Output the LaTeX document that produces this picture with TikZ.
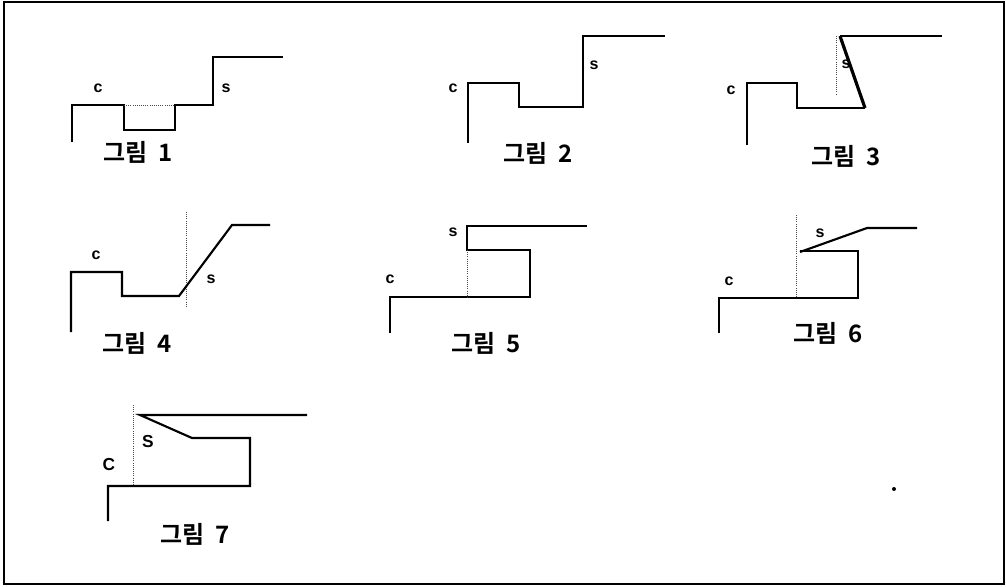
\documentclass[tikz,border=0pt]{standalone}
\usepackage{fontspec}
\setmainfont{Liberation Sans}
\newfontfamily\krfont{Noto Sans CJK KR}[BoldFont={* Bold}]
\newcommand{\gr}[1]{그림\hspace{0.45em}#1}
\begin{document}
\begin{tikzpicture}[x=0.75pt,y=-0.75pt,
  ln/.style={line width=1.6pt,line join=miter},
  thk/.style={line width=2.4pt},
  dl/.style={line width=0.6pt,densely dotted,black!70},
  lbl/.style={font=\fontsize{12}{12}\selectfont\bfseries,inner sep=0pt},
  lblb/.style={font=\fontsize{13}{13}\selectfont\bfseries,inner sep=0pt},
  capt/.style={font=\krfont\bfseries\fontsize{18}{18}\selectfont,inner sep=0pt}]
\useasboundingbox (0,0) rectangle (1006,586);
\draw[line width=1.5pt] (4,2) rectangle (1004,584);
% Fig 1
\draw[ln] (72,142) -- (72,105) -- (124,105) -- (124,130) -- (175,130) -- (175,105) -- (213,105) -- (213,57) -- (283,57);
\draw[line width=1.6pt,white] (125,105) -- (174,105);
\draw[dl] (124,105) -- (175,105);
\node[lbl] (c1) at (98,88) {c};
\node[lbl] (s1) at (226,88) {s};
\node[capt] (f1) at (138,152) {\gr{1}};
% Fig 2
\draw[ln] (468,143) -- (468,83) -- (519,83) -- (519,107) -- (583,107) -- (583,36) -- (665,36);
\node[lbl] (c2) at (453,88) {c};
\node[lbl] (s2) at (594,65) {s};
\node[capt] (f2) at (538,153) {\gr{2}};
% Fig 3
\draw[dl] (836,36) -- (836,95);
\node[lbl] (s3) at (846,64) {s};
\draw[ln] (747,145) -- (747,83) -- (797,83) -- (797,108) -- (865,108);
\draw[thk] (865,108) -- (840,36);
\draw[ln] (840,36) -- (942,36);
\node[lbl] (c3) at (731,90) {c};
\node[capt] (f3) at (846,156) {\gr{3}};
% Fig 4
\draw[dl] (186,212) -- (186,308);
\draw[ln] (71,332) -- (71,272) -- (122,272) -- (122,296) -- (179,296) -- (232,225) -- (270,225);
\node[lbl] (c4) at (96,255) {c};
\node[lbl] (s4) at (211,279) {s};
\node[capt] (f4) at (137,343) {\gr{4}};
% Fig 5
\draw[ln] (390,333) -- (390,297) -- (530,297) -- (530,250) -- (467,250) -- (467,226) -- (587,226);
\draw[line width=1.6pt,white] (467,251) -- (467,296);
\draw[dl] (467,250) -- (467,297);
\node[lbl] (s5) at (453,232) {s};
\node[lbl] (c5) at (390,279) {c};
\node[capt] (f5) at (486,343) {\gr{5}};
% Fig 6
\draw[dl] (796,215) -- (796,298);
\draw[ln] (719,333) -- (719,298) -- (858,298) -- (858,251) -- (800,251);
\draw[ln] (800,252) -- (867,228) -- (917,228);
\node[lbl] (s6) at (820,233) {s};
\node[lbl] (c6) at (729,281) {c};
\node[capt] (f6) at (828,333) {\gr{6}};
% Fig 7
\draw[dl] (133,405) -- (133,486);
\draw[ln] (108,521) -- (108,486) -- (250,486) -- (250,438) -- (192,438) -- (140,415) -- (307,415);
\node[lblb] (s7) at (148,442) {S};
\node[lblb] (c7) at (109,465) {C};
\node[capt] (f7) at (195,534) {\gr{7}};
% dot
\fill (894,489) circle (2);
\end{tikzpicture}
\end{document}
